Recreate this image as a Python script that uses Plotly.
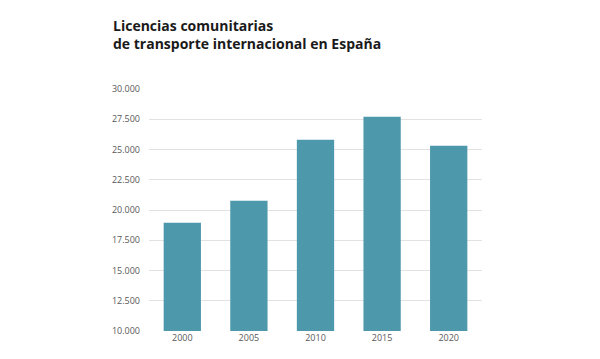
import plotly.graph_objects as go

years = ["2000", "2005", "2010", "2015", "2020"]
licencias = [18950, 20770, 25800, 27700, 25300]
tick_vals = [10000, 12500, 15000, 17500, 20000, 22500, 25000, 27500, 30000]

# The page body has an 8px margin, so the figure is 8px smaller on each axis
W, H = 592, 351

fig = go.Figure(
    go.Bar(
        x=years,
        y=licencias,
        marker=dict(color="#4E98AB", line=dict(width=0)),
        width=0.56,
    )
)

fig.update_layout(
    width=W,
    height=H,
    margin=dict(l=141, r=118, t=81, b=28),
    plot_bgcolor="white",
    paper_bgcolor="white",
    separators=",.",
    showlegend=False,
    title=dict(
        text="<b>Licencias comunitarias<br>de transporte internacional en España</b>",
        xref="container",
        yref="container",
        x=105 / W,
        xanchor="left",
        y=1 - 23 / H,
        yanchor="top",
        font=dict(family="Open Sans", size=14, color="#1a1a1a"),
    ),
    font=dict(family="Open Sans", size=9, color="#595959"),
)

fig.update_xaxes(
    type="category",
    showgrid=False,
    showline=False,
    ticks="",
    tickfont=dict(family="Open Sans", size=9, color="#595959"),
)

fig.update_yaxes(
    range=[10000, 30000],
    tickvals=tick_vals,
    tickformat=",d",
    showgrid=True,
    gridcolor="#e2e2e2",
    gridwidth=1,
    zeroline=False,
    showline=False,
    ticks="",
    ticklabelstandoff=8,
    tickfont=dict(family="Open Sans", size=9, color="#595959"),
)

fig.write_html("out.html")
